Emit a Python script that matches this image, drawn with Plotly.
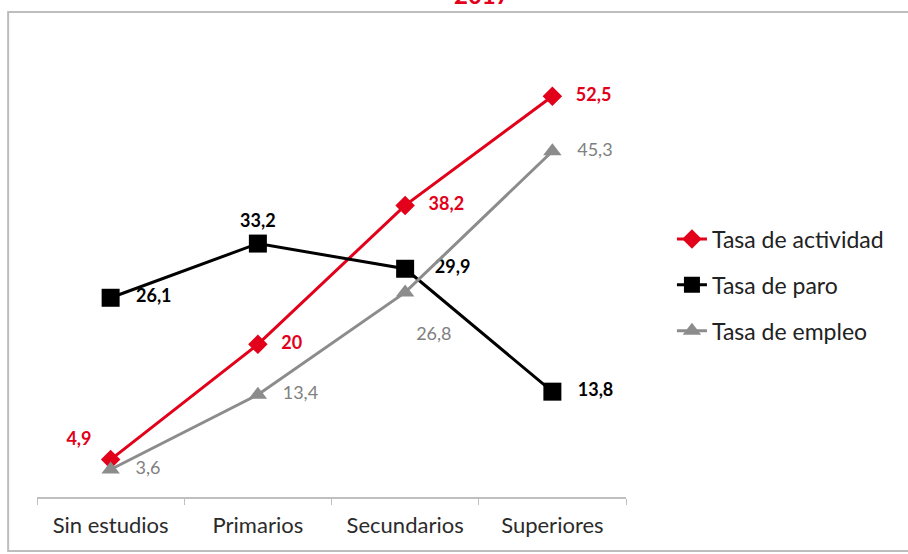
import plotly.graph_objects as go

# niveles de estudios
categorias = ["Sin estudios", "Primarios", "Secundarios", "Superiores"]
tasa_actividad = [4.9, 20, 38.2, 52.5]
tasa_paro = [26.1, 33.2, 29.9, 13.8]
tasa_empleo = [3.6, 13.4, 26.8, 45.3]
titulo = "2017"

ROJO = "#e2001a"
NEGRO = "#000000"
GRIS = "#8c8c8c"
FUENTE = "Lato"
SP = "\u00a0\u00a0\u00a0"


def etiquetas(vals):
    return ["{:g}".format(v).replace(".", ",") for v in vals]


txt_act = etiquetas(tasa_actividad)
txt_act = [txt_act[0] + "\u00a0\u00a0"] + [SP + t for t in txt_act[1:]]

txt_paro = etiquetas(tasa_paro)
txt_paro = [SP + txt_paro[0], txt_paro[1], SP + "\u00a0" + txt_paro[2], SP + txt_paro[3]]

txt_emp = etiquetas(tasa_empleo)
txt_emp = [SP + txt_emp[0], SP + txt_emp[1], "<br>" + txt_emp[2], SP + txt_emp[3]]

fig = go.Figure()

fig.add_trace(go.Scatter(
    x=categorias, y=tasa_actividad, name="Tasa de actividad",
    mode="lines+markers+text", legendgroup="a",
    line=dict(color=ROJO, width=3),
    marker=dict(symbol="diamond", size=15, color=ROJO),
    text=txt_act,
    textposition=["top left", "middle right", "middle right", "middle right"],
    textfont=dict(family=FUENTE, size=18, color=ROJO, weight="bold"),
))
fig.add_trace(go.Scatter(
    x=categorias, y=tasa_paro, name="Tasa de paro",
    mode="lines+markers+text", legendgroup="b",
    line=dict(color=NEGRO, width=3),
    marker=dict(symbol="square", size=18, color=NEGRO),
    text=txt_paro,
    textposition=["middle right", "top center", "middle right", "middle right"],
    textfont=dict(family=FUENTE, size=18, color=NEGRO, weight="bold"),
))
fig.add_trace(go.Scatter(
    x=categorias, y=tasa_empleo, name="Tasa de empleo",
    mode="lines+markers+text", legendgroup="c",
    line=dict(color=GRIS, width=3),
    marker=dict(symbol="triangle-up", size=16, color=GRIS),
    text=txt_emp,
    textposition=["middle right", "middle right", "bottom right", "middle right"],
    textfont=dict(family=FUENTE, size=18, color="#808080"),
))

# marco del grafico
fig.add_shape(type="rect", xref="paper", yref="paper",
              x0=-0.049, x1=1.49, y0=-0.118, y1=1.059,
              line=dict(color="#bdbdbd", width=2), layer="below")

fig.add_annotation(text="<b>" + titulo + "</b>", xref="paper", yref="paper",
                   x=0.7555, y=1.061, xanchor="center", yanchor="bottom",
                   showarrow=False, font=dict(family=FUENTE, size=24, color=ROJO))

fig.update_layout(
    width=908, height=554,
    margin=dict(l=37, r=282, t=39, b=57),
    paper_bgcolor="white", plot_bgcolor="white",
    font=dict(family=FUENTE, color="#333333"),
    showlegend=True,
    legend=dict(x=1.078, y=0.463, xanchor="left", yanchor="middle",
                font=dict(family=FUENTE, size=23, color="#222222"),
                tracegroupgap=13, bgcolor="rgba(0,0,0,0)"),
    xaxis=dict(range=[-0.5, 3.5], showline=True, linecolor="#bfbfbf", linewidth=1.5,
               ticks="outside", ticklen=6, tickcolor="#bfbfbf", tickson="boundaries",
               ticklabelstandoff=8,
               showgrid=False, tickfont=dict(family=FUENTE, size=22, color="#2b2b2b")),
    yaxis=dict(range=[0, 60], visible=False, showgrid=False, zeroline=False),
)

# sin margen del body para que el grafico empiece en la esquina
fig.write_html("out.html", config={"displayModeBar": False},
               post_script="document.body.style.margin='0px';")
